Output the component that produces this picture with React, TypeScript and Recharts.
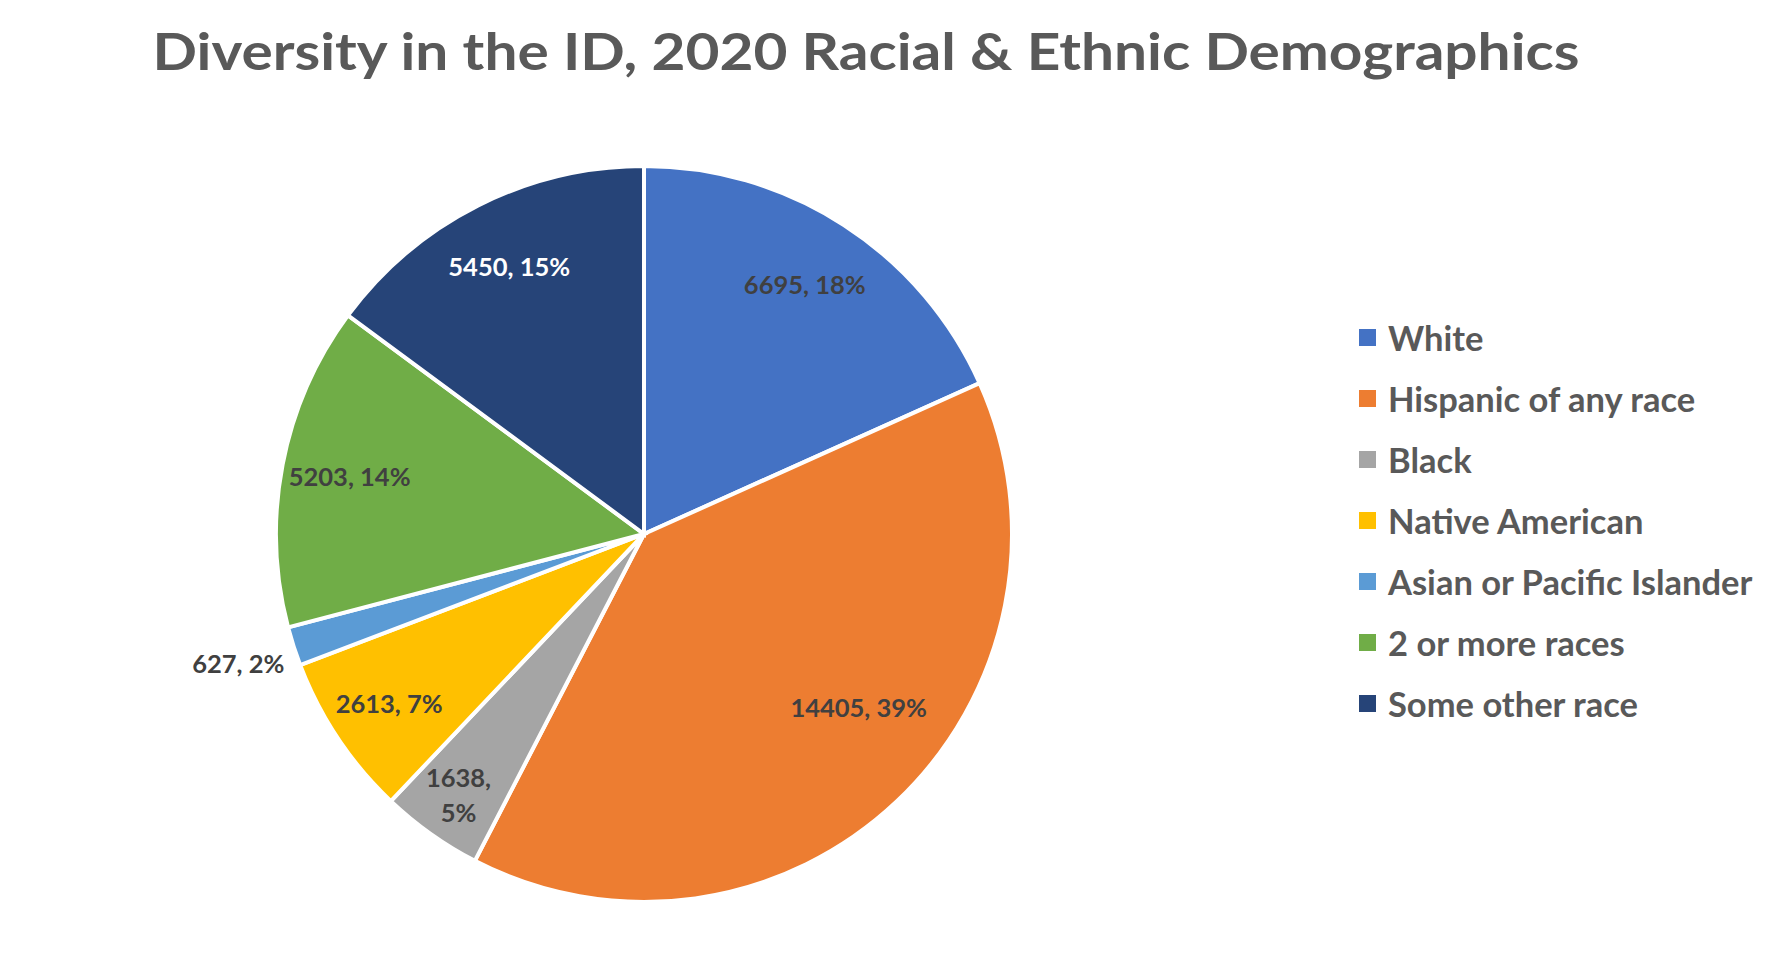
import React from "react";
import { PieChart, Pie, Cell, Legend } from "recharts";

const categories = [
  "White",
  "Hispanic of any race",
  "Black",
  "Native American",
  "Asian or Pacific Islander",
  "2 or more races",
  "Some other race",
];
const population = [6695, 14405, 1638, 2613, 627, 5203, 5450];
const colors = ["#4472C4", "#ED7D31", "#A5A5A5", "#FFC000", "#5B9BD5", "#70AD47", "#264478"];

const title = "Diversity in the ID, 2020 Racial & Ethnic Demographics";
const FONT = "Lato, 'Open Sans', sans-serif";

// Excel style: percentages forced to add up to 100 (largest remainder)
function roundedPercents(values: number[]) {
  const total = values.reduce((a, b) => a + b, 0);
  const raw = values.map((v) => (v / total) * 100);
  const out = raw.map(Math.floor);
  let left = 100 - out.reduce((a, b) => a + b, 0);
  const order = raw
    .map((r, i) => ({ i, rem: r - Math.floor(r) }))
    .sort((a, b) => b.rem - a.rem);
  for (const o of order) {
    if (left <= 0) break;
    out[o.i] += 1;
    left--;
  }
  return out;
}

const pcts = roundedPercents(population);
const data = categories.map((name, i) => ({ name, value: population[i], pct: pcts[i] }));

const RADIAN = Math.PI / 180;

function isDark(hex: string) {
  const n = parseInt(hex.slice(1), 16);
  const r = (n >> 16) & 255, g = (n >> 8) & 255, b = n & 255;
  return (0.299 * r + 0.587 * g + 0.114 * b) / 255 < 0.35;
}

// rough imitation of Excel's "best fit" label placement
function renderLabel(props: any) {
  const { cx, cy, midAngle, outerRadius, percent, index } = props;
  const small = percent < 0.03;
  const wrap = !small && percent < 0.06;
  let r = outerRadius * (0.85 - 0.25 * percent);
  let ang = midAngle;
  if (small) r = outerRadius + 58;
  if (wrap) r = outerRadius * 0.87;
  if (percent > 0.3) ang = midAngle + 7.5;
  const x = cx + r * Math.cos(-ang * RADIAN);
  const y = cy + r * Math.sin(-ang * RADIAN);
  const fill = !small && isDark(colors[index]) ? "#FFFFFF" : "#404040";
  const d = data[index];
  const common = {
    fill,
    fontFamily: FONT,
    fontWeight: 700,
    fontSize: 25.5,
    textAnchor: "middle" as const,
  };
  if (wrap) {
    return (
      <text x={x} y={y} {...common}>
        <tspan x={x} dy={-8}>{`${d.value},`}</tspan>
        <tspan x={x} dy={35}>{`${d.pct}%`}</tspan>
      </text>
    );
  }
  return (
    <text x={x} y={y} dy={9} {...common}>
      {`${d.value}, ${d.pct}%`}
    </text>
  );
}

function LegendBox() {
  return (
    <div style={{ fontFamily: FONT }}>
      {categories.map((c, i) => (
        <div key={c} style={{ height: 61, display: "flex", alignItems: "center" }}>
          <span
            style={{
              width: 17,
              height: 17,
              background: colors[i],
              display: "inline-block",
              marginRight: 12,
            }}
          />
          <span style={{ fontSize: 34.5, fontWeight: 700, color: "#595959", whiteSpace: "nowrap" }}>
            {c}
          </span>
        </div>
      ))}
    </div>
  );
}

export default function App() {
  return (
    <div style={{ position: "relative", width: 1780, height: 967, background: "#fff" }}>
      <style>{"body{margin:0}"}</style>
      <svg
        width={1780}
        height={100}
        style={{ position: "absolute", left: 0, top: 0, zIndex: 2 }}
      >
        <text
          x={866}
          y={70}
          textAnchor="middle"
          textLength={1427}
          lengthAdjust="spacingAndGlyphs"
          fill="#595959"
          fontFamily={FONT}
          fontWeight={700}
          fontSize={51}
        >
          {title}
        </text>
      </svg>
      <PieChart width={1780} height={967} margin={{ top: 0, right: 0, bottom: 0, left: 0 }}>
        <Pie
          data={data}
          dataKey="value"
          nameKey="name"
          cx={644}
          cy={534}
          outerRadius={368}
          startAngle={90}
          endAngle={-270}
          stroke="#FFFFFF"
          strokeWidth={4}
          label={renderLabel}
          labelLine={false}
          isAnimationActive={false}
        >
          {data.map((d, i) => (
            <Cell key={d.name} fill={colors[i]} />
          ))}
        </Pie>
        <Legend
          layout="vertical"
          verticalAlign="top"
          align="right"
          content={<LegendBox />}
          wrapperStyle={{ left: 1359, top: 307, right: "auto", width: 420 }}
        />
      </PieChart>
    </div>
  );
}
